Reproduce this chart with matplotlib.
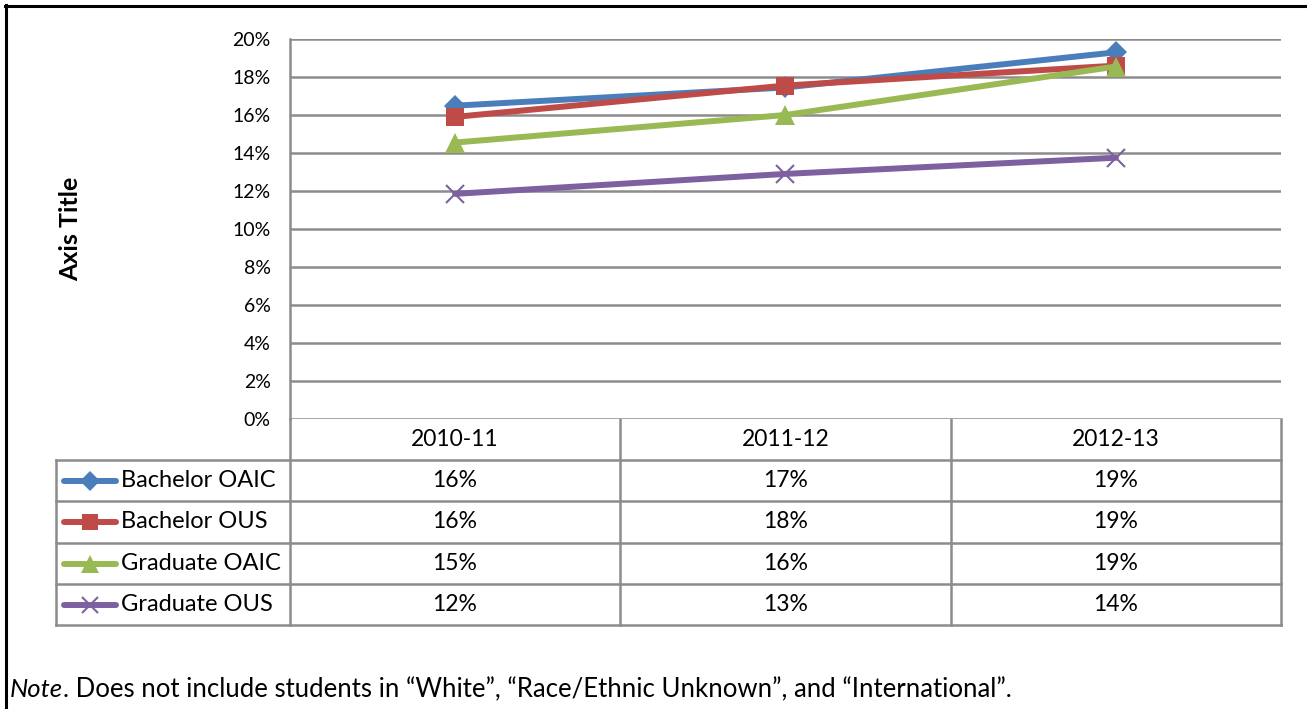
import matplotlib

matplotlib.use("Agg")
import matplotlib.pyplot as plt
from matplotlib.ticker import PercentFormatter

plt.rcParams["font.family"] = ["Lato", "DejaVu Sans"]

years = ["2010-11", "2011-12", "2012-13"]
series_names = ["Bachelor OAIC", "Bachelor OUS", "Graduate OAIC", "Graduate OUS"]
bachelor_oaic = [0.1649, 0.1745, 0.1930]
bachelor_ous = [0.1590, 0.1755, 0.1860]
graduate_oaic = [0.1455, 0.1600, 0.1855]
graduate_ous = [0.1185, 0.1290, 0.1375]
y_ticks = [0.00, 0.02, 0.04, 0.06, 0.08, 0.10, 0.12, 0.14, 0.16, 0.18, 0.20]
note_text = "Does not include students in \u201cWhite\u201d, \u201cRace/Ethnic Unknown\u201d, and \u201cInternational\u201d."

series_values = [bachelor_oaic, bachelor_ous, graduate_oaic, graduate_ous]
styles = [
    ("#4A7EBB", "D", 11.5),
    ("#BE4B48", "s", 13.5),
    ("#98B954", "^", 15),
    ("#7D60A0", "x", 13.5),
]
grid_color = "#8C8C8C"

W, H = 1307, 709
fig = plt.figure(figsize=(W / 100, H / 100), dpi=100)

# pixel-space overlay for the frame, data table and note
over = fig.add_axes([0, 0, 1, 1])
over.set_xlim(0, W)
over.set_ylim(H, 0)
over.axis("off")

left, right, top, bottom = 290, 1281, 39, 419
ax = fig.add_axes([left / W, (H - bottom) / H, (right - left) / W, (bottom - top) / H])
ax.set_xlim(-0.5, len(years) - 0.5)
ax.set_ylim(0, 0.20)
ax.set_yticks(y_ticks)
ax.yaxis.set_major_formatter(PercentFormatter(1.0, decimals=0))
ax.tick_params(axis="y", length=0, pad=14, labelsize=14)
ax.set_xticks([])
ax.grid(axis="y", color=grid_color, linewidth=1.8)
for side in ("top", "right", "bottom"):
    ax.spines[side].set_visible(False)
ax.spines["left"].set_color(grid_color)
ax.spines["left"].set_linewidth(1.8)
ax.set_ylabel("Axis Title", fontsize=18, fontweight="bold")
ax.yaxis.set_label_coords(-0.21, 0.5)
ax.set_axisbelow(True)

xs = list(range(len(years)))
for vals, (color, marker, ms) in zip(series_values, styles):
    mew = 1.5 if marker == "x" else 0
    ax.plot(xs, vals, color=color, linewidth=4.3, marker=marker, markersize=ms,
            markeredgewidth=mew, markeredgecolor=color, solid_capstyle="round", zorder=3)

# outer frame (top and left edges only)
over.plot([5, W], [6, 6], color="black", linewidth=2.2)
over.plot([6, 6], [5, H], color="black", linewidth=2.2)

# data table
row_edges = [bottom, 460, 501, 543, 584, 625]
col_edges = [left, 620, 951, right]
tbl_left = 56
over.plot([left, left], [bottom, row_edges[-1]], color=grid_color, linewidth=1.8)
for y in row_edges[1:]:
    over.plot([tbl_left, right], [y, y], color=grid_color, linewidth=1.8)
over.plot([tbl_left, tbl_left], [row_edges[1], row_edges[-1]], color=grid_color, linewidth=1.8)
for x in col_edges[1:]:
    over.plot([x, x], [bottom, row_edges[-1]], color=grid_color, linewidth=1.8)

for j, yr in enumerate(years):
    cx = (col_edges[j] + col_edges[j + 1]) / 2
    over.text(cx, (row_edges[0] + row_edges[1]) / 2, yr, ha="center", va="center", fontsize=16.5)

for i, (name, vals, (color, marker, ms)) in enumerate(zip(series_names, series_values, styles)):
    cy = (row_edges[i + 1] + row_edges[i + 2]) / 2
    over.plot([64, 116], [cy, cy], color=color, linewidth=4.3, solid_capstyle="round")
    mew = 1.5 if marker == "x" else 0
    over.plot([90], [cy], marker=marker, color=color, markersize=ms * 0.9,
              markeredgewidth=mew, markeredgecolor=color)
    over.text(121, cy, name, ha="left", va="center", fontsize=17)
    for j, v in enumerate(vals):
        cx = (col_edges[j] + col_edges[j + 1]) / 2
        over.text(cx, cy, f"{round(v * 100):d}%", ha="center", va="center", fontsize=16.5)

# italic "Note" followed by the rest on the same baseline
note_y = 697
note = over.text(10, note_y, "Note", ha="left", va="baseline", fontsize=18.5, style="italic")
renderer = fig.canvas.get_renderer()
bb = note.get_window_extent(renderer)
x_end = over.transData.inverted().transform((bb.x1, bb.y0))[0]
over.text(x_end, note_y, ". " + note_text, ha="left", va="baseline", fontsize=18.5)

fig.savefig("out.png", dpi=100)
